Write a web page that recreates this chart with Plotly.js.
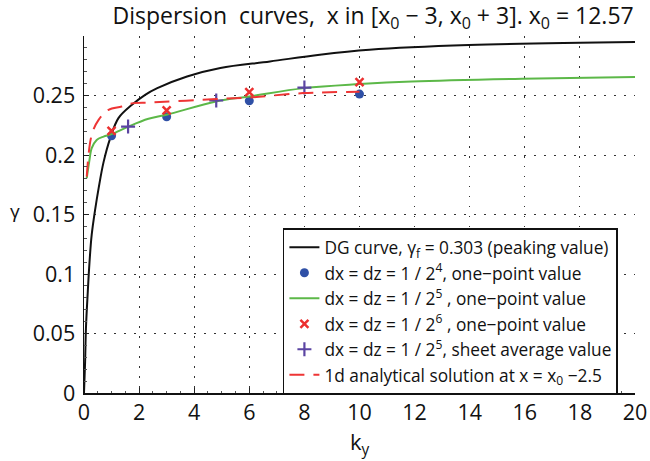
<!DOCTYPE html>
<html>
<head>
<meta charset="utf-8">
<script src="https://cdn.plot.ly/plotly-3.0.1.min.js"></script>
<style>html,body{margin:0;padding:0;background:#fff}#chart{width:650px;height:461px}</style>
</head>
<body>
<div id="chart"></div>
<script>
// DG curve
const dgK = [0, 0.04, 0.07, 0.13, 0.2, 0.28, 0.41, 0.53, 0.71, 0.95, 1.25, 1.73, 2.22, 2.66, 3.74, 4.95, 6.75, 8.56, 10.36, 13.97, 20];
const dgG = [0, 0.026, 0.054, 0.082, 0.110, 0.133, 0.155, 0.172, 0.194, 0.214, 0.231, 0.242, 0.2506, 0.2562, 0.266, 0.2731, 0.2786, 0.2843, 0.2885, 0.2924, 0.2949];
// dx = dz = 1/2^5 one-point curve
const greenK = [0.1, 0.19, 0.28, 0.46, 0.71, 1.0, 1.61, 2.34, 3, 4.79, 6, 8, 10, 11.9, 15.9, 20];
const greenG = [0.1805, 0.1944, 0.2057, 0.2127, 0.2155, 0.2175, 0.2239, 0.2304, 0.2338, 0.245, 0.2492, 0.2562, 0.2596, 0.2618, 0.2641, 0.2655];
// 1d analytical solution
const anaK = [0.1, 0.28, 0.53, 0.89, 1.37, 1.79, 2.41, 4.8, 6, 7.95, 10];
const anaG = [0.1818, 0.217, 0.2295, 0.238, 0.2407, 0.2436, 0.2441, 0.247, 0.2483, 0.252, 0.2531];
// markers
const blueK = [1, 3, 6, 10];
const blueG = [0.2161, 0.2321, 0.2455, 0.2512];
const redK = [1, 3, 6, 10];
const redG = [0.2203, 0.2374, 0.2529, 0.2613];
const purpleK = [1.6, 4.8, 8.0];
const purpleG = [0.2239, 0.2458, 0.2567];

const xTicks = [0, 2, 4, 6, 8, 10, 12, 14, 16, 18, 20];
const yTicks = [0, 0.05, 0.1, 0.15, 0.2, 0.25];
const yTickText = ['0', '0.05', '0.1', '0.15', '0.2', '0.25'];

const FONT = 'Open Sans, Lato, sans-serif';

const traces = [
  {x: dgK, y: dgG, mode: 'lines', line: {color: '#111', width: 2, shape: 'spline'},
   name: 'DG curve, γ<sub>f</sub> = 0.303 (peaking value)'},
  {x: blueK, y: blueG, mode: 'markers', marker: {color: '#2f50a6', size: 9, symbol: 'circle'},
   name: 'dx = dz = 1 / 2<sup>4</sup>, one−point value'},
  {x: greenK, y: greenG, mode: 'lines', line: {color: '#5cb848', width: 2, shape: 'spline'},
   name: 'dx = dz = 1 / 2<sup>5</sup> , one−point value'},
  {x: redK, y: redG, mode: 'markers', marker: {color: '#ec2f2f', size: 8, symbol: 'x-thin', line: {color: '#ec2f2f', width: 2.5}},
   name: 'dx = dz = 1 / 2<sup>6</sup> , one−point value'},
  {x: purpleK, y: purpleG, mode: 'markers', marker: {color: '#5b44a2', size: 10, symbol: 'cross-thin', line: {color: '#5b44a2', width: 2.2}},
   name: 'dx = dz = 1 / 2<sup>5</sup>, sheet average value'},
  {x: anaK, y: anaG, mode: 'lines', line: {color: '#ee3535', width: 2, dash: '15px,9px', shape: 'spline'},
   name: '1d analytical solution at x = x<sub>0</sub> −2.5'}
];

const layout = {
  width: 650, height: 461,
  margin: {l: 83.5, r: 14.5, t: 36.3, b: 68.3},
  paper_bgcolor: '#fff', plot_bgcolor: '#fff',
  font: {family: FONT, color: '#111', size: 16},
  showlegend: true,
  title: {text: 'Dispersion  curves,  x in [x<sub>0</sub> − 3, x<sub>0</sub> + 3]. x<sub>0</sub> = 12.57',
          font: {family: FONT, size: 23, color: '#111'}, x: 0.574, xanchor: 'center', xref: 'container',
          y: 0.982, yanchor: 'top', yref: 'container'},
  xaxis: {range: [0, 20], tickvals: xTicks, ticktext: xTicks.map(String), ticks: 'inside', ticklen: 5, tickcolor: '#222',
          showline: true, linecolor: '#111', linewidth: 1.5, zeroline: false,
          showgrid: true, gridcolor: '#333', griddash: '1.5px,8.5px', gridwidth: 1,
          tickfont: {family: FONT, size: 21.5, color: '#111'},
          minor: {dtick: 0.5, ticks: 'inside', ticklen: 2.5, tickcolor: '#555', showgrid: false}},
  yaxis: {range: [0, 0.3], tickvals: yTicks, ticktext: yTickText, ticks: 'inside', ticklen: 5, tickcolor: '#222',
          showline: true, linecolor: '#111', linewidth: 1.5, zeroline: false,
          showgrid: true, gridcolor: '#333', griddash: '1.5px,8.5px', gridwidth: 1,
          tickfont: {family: FONT, size: 21.5, color: '#111'}, ticklabelstandoff: 3,
          minor: {dtick: 0.01, ticks: 'inside', ticklen: 2.5, tickcolor: '#555', showgrid: false}},
  legend: {x: 0.361, xanchor: 'left', y: 0.462, yanchor: 'top', bgcolor: '#fff',
           bordercolor: '#111', borderwidth: 1.5, font: {family: FONT, size: 17.3, color: '#111'},
           tracegroupgap: 0, itemwidth: 30},
  annotations: [
    {text: 'k<sub>y</sub>', xref: 'paper', yref: 'paper', x: 0.5, y: -0.14, xanchor: 'center', yanchor: 'middle',
     showarrow: false, font: {family: FONT, size: 22, color: '#111'}},
    {text: 'γ', xref: 'paper', yref: 'paper', x: -0.126, y: 0.51, xanchor: 'center', yanchor: 'middle',
     showarrow: false, font: {family: FONT, size: 19, color: '#111'}}
  ]
};

Plotly.newPlot('chart', traces, layout, {displayModeBar: false, staticPlot: true});
</script>
</body>
</html>
